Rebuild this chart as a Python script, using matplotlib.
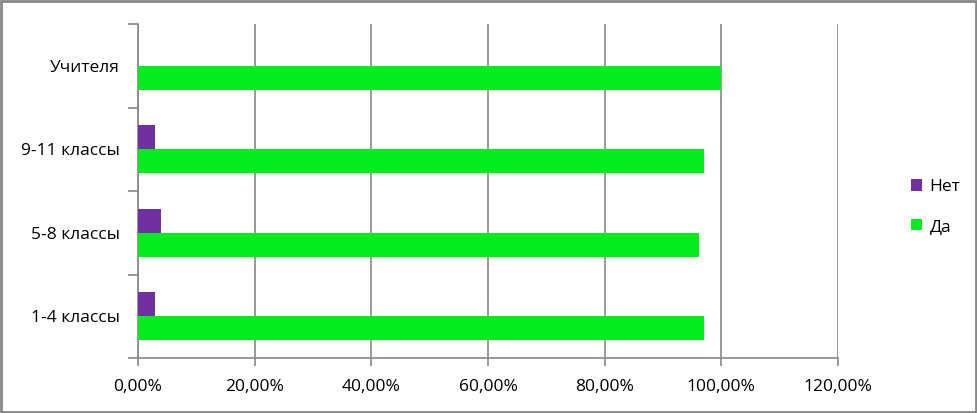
import numpy as np
import matplotlib
matplotlib.use('Agg')
import matplotlib.pyplot as plt
from matplotlib.ticker import FuncFormatter, FixedLocator
from matplotlib.patches import Rectangle

categories = ['1-4 классы', '5-8 классы', '9-11 классы', 'Учителя']
da = [97.0, 96.1, 97.0, 100.0]
net = [3.0, 3.9, 3.0, 0.0]

plt.rcParams['font.family'] = ['Open Sans', 'DejaVu Sans']
plt.rcParams['font.size'] = 12.5

fig = plt.figure(figsize=(9.78, 4.13), dpi=100)
ax = fig.add_axes([138 / 978, 55 / 413, 700 / 978, 334 / 413])

y = np.arange(len(categories))
h = 0.286
ax.barh(y - h / 2, da, height=h, color='#04EC20', label='Да', zorder=3)
ax.barh(y + h / 2, net, height=h, color='#7030A0', label='Нет', zorder=3)

ax.set_xlim(0, 120)
ax.set_ylim(-0.5, len(categories) - 0.5)
ax.set_xticks(np.arange(0, 121, 20))
ax.xaxis.set_major_formatter(FuncFormatter(lambda v, p: f'{v:.2f}%'.replace('.', ',')))
ax.grid(axis='x', color='#878787', linewidth=1.2, zorder=0)

ax.set_yticks(y)
ax.set_yticklabels(categories)
ax.yaxis.set_minor_locator(FixedLocator(np.arange(-0.5, len(categories), 1)))
ax.tick_params(axis='y', which='major', length=0, pad=13)
ax.tick_params(axis='y', which='minor', length=7, color='#878787', width=1.2)
ax.tick_params(axis='x', length=6, color='#878787', width=1.2, pad=9)

for s in ['top', 'right']:
    ax.spines[s].set_visible(False)
for s in ['left', 'bottom']:
    ax.spines[s].set_color('#878787')
    ax.spines[s].set_linewidth(1.2)

handles, labels = ax.get_legend_handles_labels()
fig.legend(handles[::-1], labels[::-1], loc='center left', bbox_to_anchor=(895 / 978, 206 / 413),
           frameon=False, handlelength=0.65, handleheight=0.65, handletextpad=0.45, labelspacing=1.35)

fig.patches.append(Rectangle((0.001, 0.002), 0.997, 0.995, transform=fig.transFigure,
                             fill=False, edgecolor='#878787', linewidth=2))

fig.savefig('out.png', dpi=100)
